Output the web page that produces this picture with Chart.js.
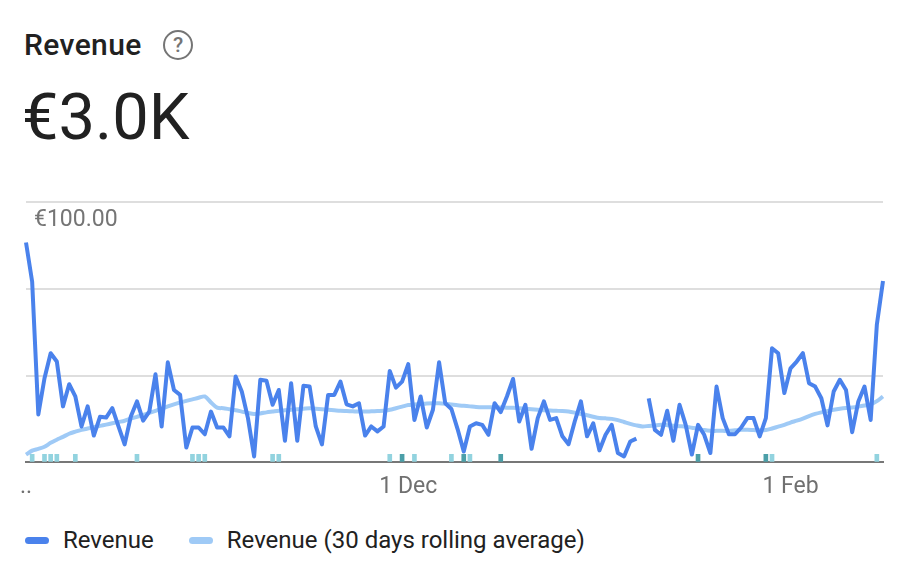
<!DOCTYPE html>
<html>
<head>
<meta charset="utf-8">
<script src="https://cdn.jsdelivr.net/npm/chart.js@4.4.1/dist/chart.umd.min.js"></script>
<style>
  html, body { margin: 0; padding: 0; background: #ffffff; }
  body { width: 908px; height: 578px; position: relative; overflow: hidden; font-family: Roboto, "Noto Sans", sans-serif; }
  #title { position: absolute; left: 24px; top: 26px; font-size: 30px; font-weight: 500; color: #212121; line-height: 38px; letter-spacing: 0.4px; }
  #help { position: absolute; left: 163px; top: 30px; width: 26px; height: 26px; border: 2.5px solid #757575; border-radius: 50%; color: #757575; font-size: 21px; font-weight: 500; line-height: 26px; text-align: center; }
  #value { position: absolute; left: 22px; top: 81px; font-size: 65px; font-weight: 400; color: #212121; line-height: 72px; }
  #wrap { position: absolute; left: 0; top: 180px; width: 908px; height: 334px; }
  #legend { position: absolute; left: 25px; top: 526px; display: flex; align-items: center; font-size: 24px; color: #212121; }
  .item { display: flex; align-items: center; margin-right: 35px; }
  .sw { width: 24px; height: 7px; border-radius: 4px; margin-right: 14px; }
</style>
</head>
<body>
<div id="title">Revenue</div>
<div id="help">?</div>
<div id="value">€3.0K</div>
<div id="wrap"><canvas id="c"></canvas></div>
<div id="legend"></div>
<script>
// ---- data ----
const startDate = '2023-09-30';
const revenue = [
  84.4, 69.3, 18.4, 32.3, 41.9, 38.7, 21.5, 30.0, 25.3, 13.8,
  21.5, 10.3, 17.5, 17.2, 20.8, 13.8, 6.9, 17.6, 23.4, 16.0,
  19.5, 33.8, 13.8, 38.4, 27.8, 25.9, 5.7, 13.4, 13.4, 10.8,
  19.5, 13.4, 13.4, 10.0, 33.0, 27.2, 17.0, 2.3, 31.7, 31.3,
  22.1, 27.8, 8.3, 30.4, 8.3, 29.4, 29.1, 13.8, 6.9, 25.9,
  25.9, 31.0, 22.3, 21.5, 22.7, 10.3, 13.8, 11.9, 13.8, 35.1,
  28.7, 31.0, 37.7, 16.3, 25.3, 13.4, 20.2, 38.4, 22.7, 20.5,
  12.8, 4.2, 13.8, 15.0, 14.4, 10.6, 22.7, 19.3, 25.3, 32.0,
  15.7, 22.1, 5.2, 17.0, 23.4, 16.3, 17.0, 10.0, 7.0, 15.7,
  23.4, 10.0, 15.0, 4.6, 10.6, 14.4, 3.6, 2.3, 8.0, 9.1,
  null, 24.6, 12.5, 10.6, 19.8, 8.3, 22.1, 14.4, 3.0, 14.4,
  10.6, 3.6, 29.1, 17.0, 10.8, 10.8, 13.4, 17.0, 17.0, 10.0,
  17.0, 43.8, 41.9, 26.6, 36.1, 38.7, 41.9, 30.4, 29.1, 24.6,
  14.2, 27.2, 31.7, 27.8, 11.6, 23.4, 29.1, 16.3, 52.8, 69.6
];
const rollingAvg = [
  3.0, 4.5, 5.2, 6.0, 7.5, 8.7, 9.8, 11.0, 11.8, 12.5,
  13.0, 13.5, 14.0, 14.5, 15.0, 15.5, 16.0, 16.8, 17.5, 18.2,
  19.0, 19.8, 20.6, 21.5, 22.3, 23.0, 23.6, 24.2, 24.8, 25.3,
  23.0, 21.0, 20.8, 20.4, 20.0, 19.5, 19.0, 18.6, 18.8, 19.2,
  19.5, 19.8, 20.0, 20.2, 20.4, 20.6, 20.8, 20.6, 20.4, 20.2,
  20.0, 19.8, 19.7, 19.6, 19.5, 19.5, 19.6, 19.7, 19.8, 20.2,
  20.8, 21.4, 22.0, 22.2, 22.4, 22.6, 22.7, 22.7, 22.5, 22.2,
  21.9, 21.7, 21.5, 21.3, 21.2, 21.2, 21.1, 21.1, 21.0, 21.0,
  20.8, 20.6, 20.4, 20.2, 20.0, 19.9, 19.8, 19.7, 19.5, 19.1,
  18.6, 18.1, 17.5, 17.0, 16.9, 16.7, 16.2, 15.5, 14.8, 14.2,
  13.8, 14.0, 14.2, 14.4, 14.3, 14.1, 13.9, 13.7, 13.3, 12.9,
  12.4, 12.1, 12.1, 12.1, 12.1, 12.3, 12.5, 12.5, 12.4, 12.3,
  12.4, 13.0, 13.7, 14.4, 15.3, 16.0, 16.8, 17.8, 18.6, 19.2,
  19.7, 20.2, 20.6, 20.9, 21.1, 21.4, 21.8, 22.3, 23.5, 25.3
];
// annotation markers (day indices)
const annotationLight = [1, 3, 4, 5, 8, 18, 27, 28, 29, 40, 41, 59, 63, 69, 72, 121, 138];
const annotationDark = [61, 71, 77, 109, 120];
const yTicks = [0, 100 / 3, 200 / 3, 100];
const yTickLabel = '€100.00';
const xTickDates = ['2023-09-30', '2023-12-01', '2024-02-01'];
const xTickTexts = ['..', '1 Dec', '1 Feb'];
const seriesNames = ['Revenue', 'Revenue (30 days rolling average)'];

// ---- build ----
const COL_REV = '#4a82ec';
const COL_AVG = '#9fcaf6';
const COL_LIGHT = '#92d3df';
const COL_DARK = '#4b9fa8';
const MARK_H = 3.1;

const dates = [];
{
  const d0 = new Date(startDate + 'T12:00:00Z');
  for (let i = 0; i < revenue.length; i++) {
    const d = new Date(d0.getTime() + i * 86400000);
    dates.push(d.toISOString().slice(0, 10));
  }
}
const tickMap = {};
xTickDates.forEach((d, k) => { const idx = dates.indexOf(d); if (idx >= 0) tickMap[idx] = xTickTexts[k]; });

const lightData = dates.map((_, i) => annotationLight.includes(i) ? MARK_H : null);
const darkData = dates.map((_, i) => annotationDark.includes(i) ? MARK_H : null);

// legend (HTML)
const lg = document.getElementById('legend');
[[seriesNames[0], COL_REV], [seriesNames[1], COL_AVG]].forEach(([name, col]) => {
  const it = document.createElement('div'); it.className = 'item';
  const sw = document.createElement('span'); sw.className = 'sw'; sw.style.background = col;
  const tx = document.createElement('span'); tx.textContent = name;
  it.appendChild(sw); it.appendChild(tx); lg.appendChild(it);
});

new Chart(document.getElementById('c'), {
  data: {
    labels: dates,
    datasets: [
      { type: 'line', label: seriesNames[0], data: revenue, borderColor: COL_REV, borderWidth: 4,
        pointRadius: 0, tension: 0, spanGaps: false, order: 1, borderJoinStyle: 'round' },
      { type: 'line', label: seriesNames[1], data: rollingAvg, borderColor: COL_AVG, borderWidth: 4,
        pointRadius: 0, tension: 0.3, order: 2 },
      { type: 'bar', label: 'annotations', data: lightData, backgroundColor: COL_LIGHT, barThickness: 4, grouped: false, order: 3 },
      { type: 'bar', label: 'annotations', data: darkData, backgroundColor: COL_DARK, barThickness: 4, grouped: false, order: 3 }
    ]
  },
  options: {
    responsive: true,
    maintainAspectRatio: false,
    animation: false,
    layout: { padding: { left: 10, right: 25, top: 15, bottom: 2 } },
    plugins: { legend: { display: false }, tooltip: { enabled: false } },
    scales: {
      x: {
        offset: false,
        grid: { display: false, drawTicks: false },
        border: { display: true, color: '#777777', width: 2 },
        ticks: {
          autoSkip: false, maxRotation: 0, minRotation: 0, padding: 11,
          color: '#707070', font: { family: 'Roboto', size: 23 },
          callback: (v, i) => tickMap[i] !== undefined ? tickMap[i] : ''
        }
      },
      y: {
        min: 0, max: 100,
        afterBuildTicks: (axis) => { axis.ticks = yTicks.map(v => ({ value: v })); },
        grid: { color: '#dedede', lineWidth: 2, drawTicks: false },
        border: { display: false },
        ticks: {
          mirror: true, padding: 8, labelOffset: 18,
          color: '#757575', font: { family: 'Roboto', size: 23 },
          callback: (v) => (Math.abs(v - 100) < 1e-6 ? yTickLabel : '')
        }
      }
    }
  }
});
</script>
</body>
</html>
